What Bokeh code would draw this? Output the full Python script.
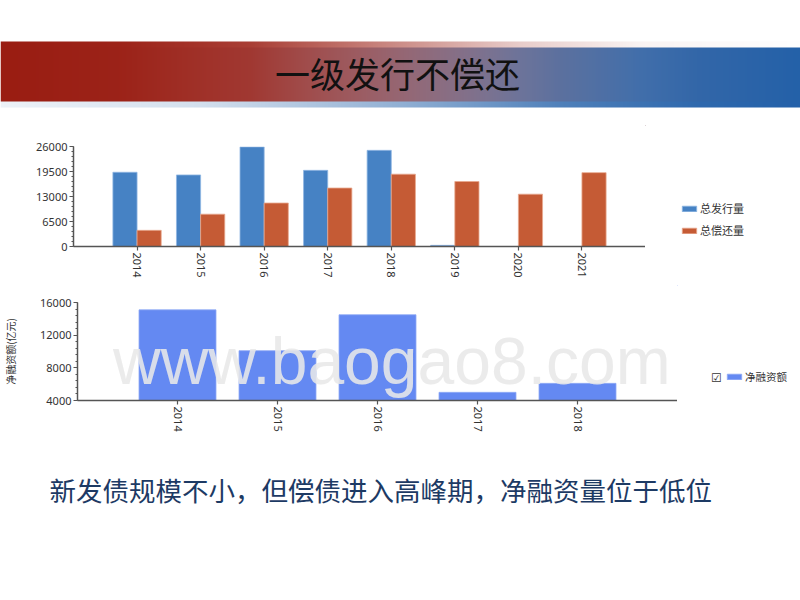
import math
import numpy as np
from bokeh.plotting import figure
from bokeh.layouts import column, row
from bokeh.models import (ColumnDataSource, Range1d, FixedTicker, Legend,
                          LegendItem, Label)
from bokeh.transform import dodge
from bokeh.embed import file_html
from bokeh.resources import INLINE

# ---------------- data ----------------
years_1 = ["2014", "2015", "2016", "2017", "2018", "2019", "2020", "2021"]
issuance = [19300, 18600, 25900, 19800, 25000, 300, 0, 0]
repayment = [4200, 8400, 11300, 15200, 18800, 16900, 13600, 19200]
series_names = ["总发行量", "总偿还量"]
y1_ticks = [0, 6500, 13000, 19500, 26000]

years_2 = ["2014", "2015", "2016", "2017", "2018"]
net_financing = [15100, 10100, 14500, 5000, 6100]
net_name = "净融资额"
y2_label = "净融资额(亿元)"
y2_ticks = [4000, 8000, 12000, 16000]

title_text = "一级发行不偿还"
summary_text = "新发债规模不小，但偿债进入高峰期，净融资量位于低位"
watermark_text = "www.baogao8.com"
checkbox_text = "☑"

# ---------------- styles ----------------
W = 800
CJK = "Noto Sans CJK SC"
TICK_FONT = "Noto Sans"
BLUE1 = "#4682C4"
ORANGE1 = "#C55B35"
BLUE2 = "#6489F2"
AXIS_COLOR = "#555555"
BLUE1_EDGE = "#8FB6E2"
ORANGE1_EDGE = "#E8A88E"
BLUE2_EDGE = "#8FA9F5"


def blank_fig(w, h, xr, yr):
    f = figure(width=w, height=h, x_range=xr, y_range=yr,
               toolbar_location=None, output_backend="svg",
               min_border=0, outline_line_color=None,
               x_axis_type=None, y_axis_type=None, frame_align=False)
    f.grid.visible = False
    return f


def style_axes(p):
    p.grid.visible = False
    for ax in (p.xaxis[0], p.yaxis[0]):
        ax.axis_line_color = AXIS_COLOR
        ax.axis_line_width = 1.5
        ax.major_tick_line_color = AXIS_COLOR
        ax.major_tick_line_width = 1.2
        ax.minor_tick_line_color = AXIS_COLOR
        ax.major_tick_out = 4
        ax.major_tick_in = 0
        ax.minor_tick_out = 2
        ax.minor_tick_in = 0
        ax.major_label_text_font = TICK_FONT
        ax.major_label_text_font_size = "11px"
        ax.major_label_text_color = "#333333"
        ax.major_label_standoff = 2
    p.xaxis.minor_tick_line_color = None


def legend_style(**kw):
    base = dict(glyph_width=18, glyph_height=7, label_height=14,
                label_standoff=2, padding=0, margin=0,
                border_line_color=None, background_fill_alpha=0,
                label_text_font=CJK, label_text_color="#333333")
    base.update(kw)
    return base


# ---------------- header (gradient band) ----------------
header = blank_fig(W, 125, Range1d(0, 800), Range1d(125, 0))
band_top, band_h = 41, 66
cols = np.arange(800) + 0.5
rows = band_top + np.arange(band_h) + 0.5
red_alpha = np.interp(cols, [0, 120, 250, 400, 520, 640, 800],
                      [1.0, 0.97, 0.85, 0.5, 0.22, 0.05, 0.0])
blue_alpha = np.interp(cols, [0, 200, 400, 560, 700, 800],
                       [0.08, 0.2, 0.5, 0.8, 0.95, 1.0])
red_rgb = np.array([154, 29, 18], dtype=float)
blue_rgb = np.array([36, 97, 169], dtype=float)
rgb = np.full((band_h, 800, 3), 255.0)
in_blue = (rows >= 47) & (rows < 107)
in_red = (rows >= 41) & (rows < 101)
ab = blue_alpha[:, None]
ar = red_alpha[:, None]
rgb[in_blue] = rgb[in_blue] * (1 - ab) + blue_rgb * ab
rgb[in_red] = rgb[in_red] * (1 - ar) + red_rgb * ar
rgba = np.empty((band_h, 800, 4), dtype=np.uint8)
rgba[..., :3] = np.clip(rgb, 0, 255).astype(np.uint8)
rgba[..., 3] = 255
img = rgba.view(dtype=np.uint32).reshape((band_h, 800))
header.image_rgba(image=[img], x=0, y=band_top, dw=800, dh=band_h)
header.add_layout(Label(x=397, y=72, text=title_text, text_align="center",
                        text_baseline="middle", text_font=CJK,
                        text_font_size="35px", text_color="#111111"))

# ---------------- chart 1 ----------------
p1 = figure(width=645, height=160, x_range=Range1d(-1, len(years_1)),
            y_range=Range1d(0, 26000), toolbar_location=None,
            output_backend="svg", outline_line_color=None, frame_align=False,
            min_border_left=73, min_border_right=0,
            min_border_top=21, min_border_bottom=39)
src1 = ColumnDataSource(dict(x=list(range(len(years_1))),
                             issuance=issuance, repayment=repayment))
p1.vbar(x=dodge("x", -0.19), top="issuance", width=0.38, source=src1,
        fill_color=BLUE1, line_color=BLUE1_EDGE, line_width=0.8)
p1.vbar(x=dodge("x", 0.19), top="repayment", width=0.38, source=src1,
        fill_color=ORANGE1, line_color=ORANGE1_EDGE, line_width=0.8)
style_axes(p1)
p1.xaxis.ticker = FixedTicker(ticks=list(range(len(years_1))))
p1.xaxis.major_label_overrides = {i: y for i, y in enumerate(years_1)}
p1.xaxis.major_label_orientation = -math.pi / 2
p1.yaxis.ticker = FixedTicker(ticks=y1_ticks,
                              minor_ticks=list(range(0, 26001, 1300)))

# legend panel for chart 1 (key renderers sit outside the visible range)
lg1 = blank_fig(W - 645, 160, Range1d(645, 800), Range1d(285, 125))
k_iss = lg1.vbar(x=[0], top=[0], bottom=[0], width=1, fill_color=BLUE1,
                 line_color=BLUE1_EDGE, line_width=0.8)
k_rep = lg1.vbar(x=[0], top=[0], bottom=[0], width=1, fill_color=ORANGE1,
                 line_color=ORANGE1_EDGE, line_width=0.8)
lg1.add_layout(Legend(items=[LegendItem(label=series_names[0], renderers=[k_iss]),
                             LegendItem(label=series_names[1], renderers=[k_rep])],
                      location=(35, 47), spacing=6,
                      **legend_style(label_text_font_size="11px")))

# ---------------- chart 2 ----------------
p2 = figure(width=677, height=160, x_range=Range1d(-1, len(years_2)),
            y_range=Range1d(4000, 16000), toolbar_location=None,
            output_backend="svg", outline_line_color=None, frame_align=False,
            min_border_left=70, min_border_right=0,
            min_border_top=17, min_border_bottom=45)
src2 = ColumnDataSource(dict(x=list(range(len(years_2))), net=net_financing))
p2.vbar(x="x", top="net", bottom=0, width=0.77, source=src2,
        fill_color=BLUE2, line_color=BLUE2_EDGE, line_width=0.8)
style_axes(p2)
p2.xaxis.ticker = FixedTicker(ticks=list(range(len(years_2))))
p2.xaxis.major_label_overrides = {i: y for i, y in enumerate(years_2)}
p2.xaxis.major_label_orientation = -math.pi / 2
p2.yaxis.ticker = FixedTicker(ticks=y2_ticks,
                              minor_ticks=list(range(4000, 16001, 800)))
p2.yaxis.axis_label = y2_label
p2.yaxis.axis_label_text_font = CJK
p2.yaxis.axis_label_text_font_size = "10px"
p2.yaxis.axis_label_text_font_style = "normal"
p2.yaxis.axis_label_text_color = "#333333"
p2.yaxis.axis_label_standoff = 19
p2.add_layout(Label(x=-0.645, y=8880, text=watermark_text, text_align="left",
                    text_baseline="alphabetic", text_font="Liberation Sans",
                    text_font_size="66px", text_color="#E8E8E8",
                    text_alpha=0.88))

# legend panel for chart 2
lg2 = blank_fig(W - 677, 160, Range1d(677, 800), Range1d(445, 285))
k_net = lg2.vbar(x=[0], top=[0], bottom=[0], width=1, fill_color=BLUE2,
                 line_color=BLUE2_EDGE, line_width=0.8)
lg2.add_layout(Legend(items=[LegendItem(label=net_name, renderers=[k_net])],
                      location=(48, 61),
                      **legend_style(label_text_font_size="10.5px")))
lg2.add_layout(Label(x=716, y=377, text=checkbox_text, text_align="center",
                     text_baseline="middle", text_font="DejaVu Sans",
                     text_font_size="12px", text_color="#333333"))

# ---------------- footer text ----------------
footer = blank_fig(W, 151, Range1d(0, 800), Range1d(596, 445))
footer.add_layout(Label(x=49, y=489, text=summary_text, text_align="left",
                        text_baseline="middle", text_font=CJK,
                        text_font_size="26.5px", text_color="#1D3A64"))

layout = column(header,
                row(p1, lg1, spacing=0),
                row(p2, lg2, spacing=0),
                footer, spacing=0)
open("out.html", "w").write(file_html(layout, INLINE))
